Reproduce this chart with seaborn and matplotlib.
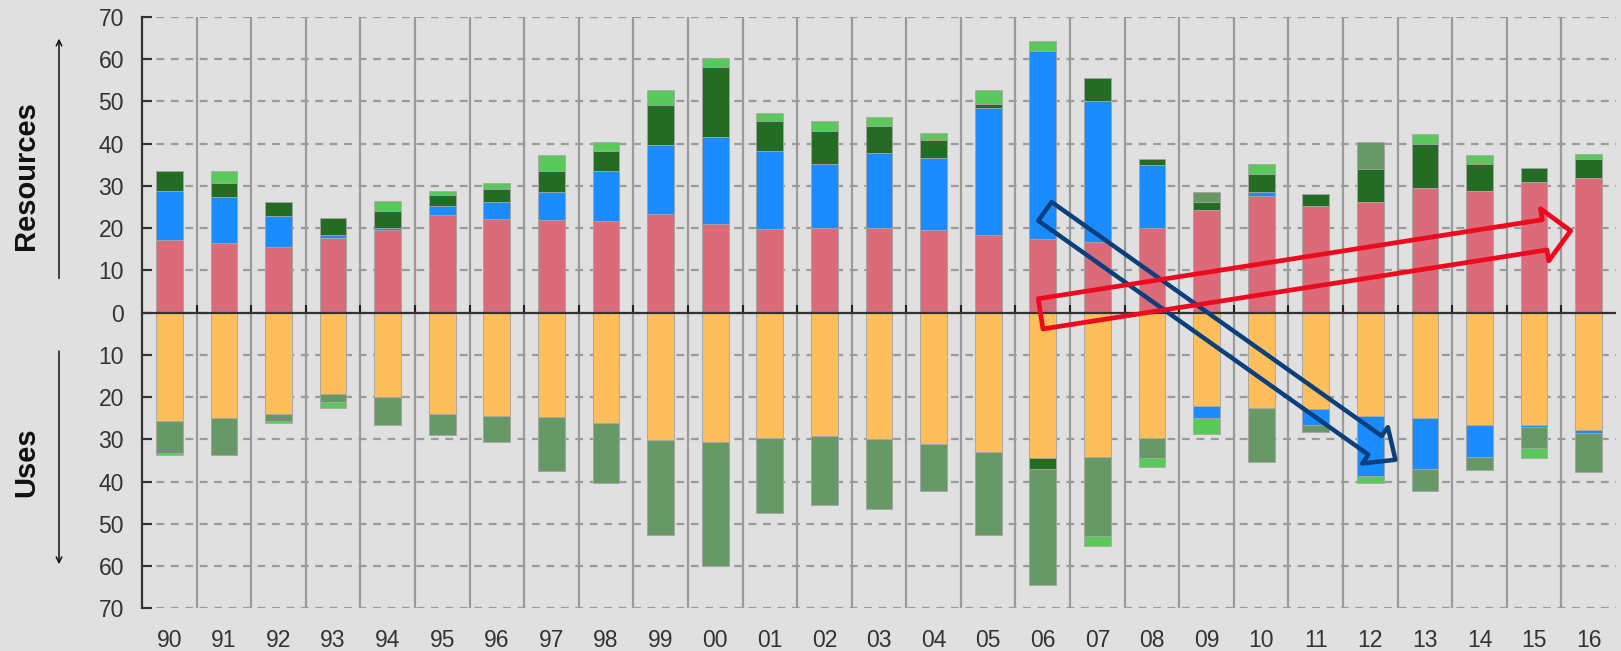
import numpy as np
import pandas as pd
import matplotlib
matplotlib.use("Agg")
import matplotlib.pyplot as plt
import seaborn as sns
from matplotlib.ticker import FuncFormatter

years = ["90", "91", "92", "93", "94", "95", "96", "97", "98", "99", "00", "01", "02",
         "03", "04", "05", "06", "07", "08", "09", "10", "11", "12", "13", "14", "15", "16"]

# Resources (positive side), stacked bottom -> top
res_red   = [17.3, 16.4, 15.5, 17.7, 19.5, 23.1, 22.1, 21.9, 21.6, 23.4, 21.0, 19.8, 20.1,
             20.1, 19.5, 18.3, 17.4, 16.8, 20.1, 24.3, 27.7, 25.2, 26.2, 29.5, 28.8, 31.0, 31.9]
res_blue  = [11.5, 10.9, 7.3, 0.8, 0.5, 2.1, 4.1, 6.6, 12.0, 16.4, 20.6, 18.4, 15.1,
             17.8, 17.2, 30.2, 44.5, 33.2, 14.8, 0.0, 0.8, 0.0, 0.0, 0.0, 0.0, 0.0, 0.0]
res_dkgrn = [4.8, 3.4, 3.4, 4.0, 4.0, 2.7, 3.0, 5.1, 4.6, 9.4, 16.6, 7.3, 7.9,
             6.4, 4.3, 1.0, 0.0, 5.5, 1.6, 1.9, 4.3, 3.0, 7.8, 10.5, 6.4, 3.3, 4.5]
res_muted = [0.0, 0.0, 0.0, 0.0, 0.0, 0.0, 0.0, 0.0, 0.0, 0.0, 0.0, 0.0, 0.0,
             0.0, 0.0, 0.0, 0.0, 0.0, 0.0, 2.3, 0.0, 0.0, 6.3, 0.0, 0.0, 0.0, 0.0]
res_ltgrn = [0.0, 2.9, 0.0, 0.0, 2.5, 1.0, 1.5, 3.8, 2.1, 3.6, 2.2, 1.8, 2.4,
             2.1, 1.5, 3.3, 2.4, 0.0, 0.0, 0.0, 2.4, 0.0, 0.0, 2.2, 2.2, 0.0, 1.2]

# Uses (negative side), stacked top -> bottom
use_orange = [25.7, 25.0, 23.9, 19.3, 19.9, 23.9, 24.4, 24.7, 26.2, 30.2, 30.5, 29.6, 29.2,
              29.9, 31.0, 32.9, 34.4, 34.1, 29.6, 22.0, 22.6, 22.8, 24.4, 25.0, 26.6, 26.6, 27.8]
use_dkgrn  = [0.0, 0.0, 0.0, 0.0, 0.0, 0.0, 0.0, 0.0, 0.0, 0.0, 0.0, 0.0, 0.0,
              0.0, 0.0, 0.0, 2.5, 0.0, 0.0, 0.0, 0.0, 0.0, 0.0, 0.0, 0.0, 0.0, 0.0]
use_blue   = [0.0, 0.0, 0.0, 0.0, 0.0, 0.0, 0.0, 0.0, 0.0, 0.0, 0.0, 0.0, 0.0,
              0.0, 0.0, 0.0, 0.0, 0.0, 0.0, 3.0, 0.0, 3.7, 14.2, 11.9, 7.5, 0.4, 0.6]
use_muted  = [7.6, 8.7, 1.7, 1.9, 6.6, 5.0, 6.3, 12.7, 14.1, 22.4, 29.5, 17.8, 16.3,
              16.6, 11.2, 19.7, 27.5, 18.7, 4.8, 0.0, 12.7, 1.7, 0.0, 5.3, 3.2, 5.0, 9.3]
use_ltgrn  = [0.3, 0.0, 0.6, 1.3, 0.0, 0.0, 0.0, 0.0, 0.0, 0.0, 0.0, 0.0, 0.0,
              0.0, 0.0, 0.0, 0.0, 2.4, 2.1, 3.6, 0.0, 0.0, 1.7, 0.0, 0.0, 2.4, 0.0]

C_RED, C_BLUE, C_DKG, C_MUT, C_LTG, C_ORA = "#DB6B78", "#1A8CFF", "#246B24", "#669966", "#5AC85A", "#FFBE5C"
BG = "#E0E0E0"

sns.set_theme(style="white")
plt.rcParams["font.family"] = ["Liberation Sans", "DejaVu Sans"]

fig = plt.figure(figsize=(16.21, 6.51), dpi=100, facecolor=BG)
ax = fig.add_axes([0.0876, 0.0653, 0.9093, 0.9086])
ax.set_facecolor(BG)

res_layers = [(res_red, C_RED), (res_blue, C_BLUE), (res_dkgrn, C_DKG),
              (res_muted, C_MUT), (res_ltgrn, C_LTG)]
use_layers = [(use_orange, C_ORA), (use_dkgrn, C_DKG), (use_blue, C_BLUE),
              (use_muted, C_MUT), (use_ltgrn, C_LTG)]

def draw_stack(layers, sign):
    cums = np.cumsum(np.array([l[0] for l in layers]), axis=0)
    for i in range(len(layers) - 1, -1, -1):
        df = pd.DataFrame({"year": years, "value": sign * cums[i]})
        sns.barplot(data=df, x="year", y="value", order=years, color=layers[i][1],
                    saturation=1, width=0.49, edgecolor="#A8A8A8", linewidth=0.6,
                    errorbar=None, ax=ax, zorder=3)

draw_stack(res_layers, 1)
draw_stack(use_layers, -1)

n = len(years)
bounds = np.arange(n - 1) + 0.5
ax.vlines(bounds, -70, 70, colors="#9A9A9A", linewidth=1.6, zorder=1)
ax.vlines(bounds, 0, 1.9, colors="#222222", linewidth=1.5, zorder=4)
ax.axhline(0, color="#333333", linewidth=1.6, zorder=4)

ax.set_ylim(-70, 70)
ax.set_xlim(-0.5, n - 0.5)
ax.set_yticks(np.arange(-70, 71, 10))
ax.yaxis.set_major_formatter(FuncFormatter(lambda v, p: f"{abs(int(round(v)))}"))
ax.yaxis.grid(True, color="#9A9A9A", linestyle=(0, (3.5, 3)), linewidth=1.6)
ax.xaxis.grid(False)
ax.set_axisbelow(True)
for s in ["top", "right", "bottom"]:
    ax.spines[s].set_visible(False)
ax.spines["left"].set_color("#333333")
ax.spines["left"].set_linewidth(1.6)
ax.tick_params(axis="y", direction="in", length=7, width=1.5, color="#333333",
               labelsize=16.5, labelcolor="#333333", pad=13, left=True)
ax.tick_params(axis="x", length=0, labelsize=16.5, labelcolor="#333333", pad=15)
ax.set_xlabel("")
ax.set_ylabel("")

# hollow trend arrows
ax.annotate("", xy=(22.46, -34.8), xytext=(16.04, 24.0),
            arrowprops=dict(arrowstyle="simple,head_length=18,head_width=32,tail_width=16.5",
                            mutation_scale=1, fc="none", ec="#0A3F7C", lw=3.2,
                            shrinkA=0, shrinkB=0), zorder=6)
ax.annotate("", xy=(25.67, 19.4), xytext=(15.96, -0.26),
            arrowprops=dict(arrowstyle="simple,head_length=19,head_width=38,tail_width=22",
                            mutation_scale=1, fc="none", ec="#EE0A1E", lw=3.4,
                            shrinkA=0, shrinkB=0), zorder=6)

# side labels with arrows
fig.text(0.016, 0.730, "Resources", rotation=90, ha="center", va="center",
         fontsize=21, fontweight="bold", color="#111111")
fig.text(0.016, 0.290, "Uses", rotation=90, ha="center", va="center",
         fontsize=21, fontweight="bold", color="#111111")
fig.add_artist(matplotlib.patches.FancyArrowPatch((0.0364, 0.568), (0.0364, 0.945),
               transform=fig.transFigure, arrowstyle="->,head_length=4,head_width=2",
               color="#111111", lw=1.1))
fig.add_artist(matplotlib.patches.FancyArrowPatch((0.0364, 0.465), (0.0364, 0.129),
               transform=fig.transFigure, arrowstyle="->,head_length=4,head_width=2",
               color="#111111", lw=1.1))

fig.savefig("out.png", dpi=100, facecolor=BG)
